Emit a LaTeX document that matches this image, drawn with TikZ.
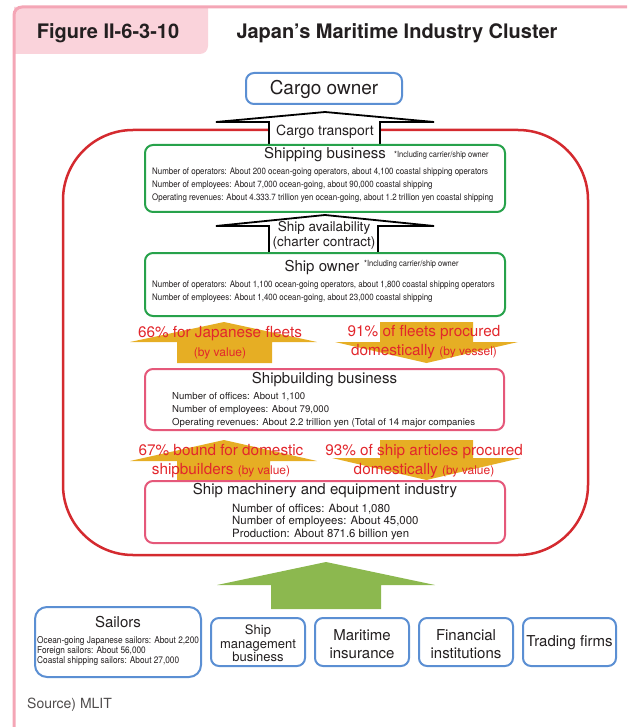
\documentclass[tikz,border=0pt]{standalone}
\usepackage{fontspec}
\setmainfont{TeX Gyre Heros}
\newfontfamily\condfont[FakeStretch=0.88]{TeX Gyre Heros}
\newcommand\fsz[2]{\fontsize{#1}{#2}\selectfont}
\definecolor{framepink}{HTML}{F4A6B6}
\definecolor{tabpink}{HTML}{FAD3DB}
\definecolor{clusterred}{HTML}{D42A2F}
\definecolor{boxgreen}{HTML}{27A24B}
\definecolor{boxpink}{HTML}{E5587A}
\definecolor{boxblue}{HTML}{5B8FD3}
\definecolor{gold}{HTML}{E6AE24}
\definecolor{leaf}{HTML}{8CB84F}
\definecolor{redtext}{HTML}{E2262C}
\definecolor{ink}{HTML}{231F20}
\begin{document}
\begin{tikzpicture}[x=1pt,y=-1pt,
  every node/.style={text=ink},
  box/.style={draw=#1, line width=2pt, rounded corners=8pt, fill=white, inner sep=0pt},
  blocktext/.style={inner sep=0pt, anchor=west},
  boxtitle/.style={inner sep=0pt, font=\fsz{15}{18}},
  smallcond/.style={blocktext, font=\condfont\fsz{9}{11}},
  notecond/.style={inner sep=0pt, anchor=west, font=\condfont\fsz{8.5}{10}},
  redlbl/.style={inner sep=0pt, align=center, text=redtext, font=\fsz{15.3}{19}},
  whitearrow/.style={fill=white, draw=black, line width=1.8pt},
]
\useasboundingbox (0,0) rectangle (627,727);

% frame and tab
\fill[tabpink] (14,7) -- (208,7) -- (208,46) arc[start angle=0, end angle=90, radius=8] -- (14,54) -- cycle;
\draw[framepink, line width=3pt, rounded corners=8pt] (14,727) -- (14,7) -- (627,7);
\node[font=\bfseries\fsz{20}{22}, inner sep=0pt] (fig) at (108,33) {Figure II-6-3-10};
\node[font=\bfseries\fsz{20}{22}, inner sep=0pt] (title) at (397,33) {Japan’s Maritime Industry Cluster};

% cluster
\node[draw=clusterred, line width=2.5pt, rounded corners=70pt, minimum width=525, minimum height=425, inner sep=0pt] (cluster) at (325.5,342.5) {};

% white block arrows
\draw[whitearrow] (269,145) -- (269,122) -- (216,122) -- (325,112) -- (434,122) -- (380,122) -- (380,145) -- cycle;
\draw[whitearrow] (269,253) -- (269,226) -- (216,226) -- (325,215) -- (434,226) -- (378,226) -- (378,253) -- cycle;

% gold arrows
\fill[gold] (177,363) -- (177,342) -- (130,342) -- (224,322) -- (317,342) -- (272,342) -- (272,363) -- cycle;
\fill[gold] (380,322) -- (473,322) -- (473,342) -- (518,342) -- (426.5,363) -- (335,342) -- (380,342) -- cycle;
\fill[gold] (177,481) -- (177,461) -- (130,461) -- (224,440) -- (317,461) -- (270,461) -- (270,481) -- cycle;
\fill[gold] (380,440) -- (473,440) -- (473,458) -- (521,458) -- (426.5,480) -- (332,458) -- (380,458) -- cycle;

% boxes
\node[box=boxblue, minimum width=156, minimum height=31] (cargo) at (324,88.5) {};
\node[box=boxgreen, minimum width=360, minimum height=67] (shipping) at (325,178.5) {};
\node[box=boxgreen, minimum width=360, minimum height=63] (owner) at (325,284.5) {};
\node[box=boxpink, minimum width=359, minimum height=61] (building) at (324.5,399.5) {};
\node[box=boxpink, minimum width=360, minimum height=62] (machinery) at (325,512) {};
\node[box=boxblue, rounded corners=12pt, minimum width=166, minimum height=70] (sailors) at (118,642) {};
\node[box=boxblue, minimum width=94, minimum height=48] (mgmt) at (258,642) {};
\node[box=boxblue, minimum width=94, minimum height=48] (insurance) at (362,642) {};
\node[box=boxblue, minimum width=94, minimum height=48] (finance) at (466,642) {};
\node[box=boxblue, minimum width=93, minimum height=48] (trading) at (569.5,642) {};

% green arrow
\fill[leaf] (271,609) -- (271,585) -- (217,585) -- (326,562) -- (435,585) -- (381,585) -- (381,609) -- cycle;

% texts
\node[inner sep=0pt, font=\fsz{19}{22}] (cargot) at (324,89) {Cargo owner};
\node[inner sep=0pt, font=\fsz{14}{16}] (transport) at (325,131.5) {Cargo transport};
\node[inner sep=0pt, align=center, font=\fsz{13.5}{15}] (avail) at (324,235.5) {Ship availability\\(charter contract)};

\node[boxtitle] (shippingt) at (325,155) {Shipping business};
\node[notecond] (shippingn) at (394,155) {*Including carrier/ship owner};
\node[smallcond] (s1) at (152,172) {Number of operators: About 200 ocean-going operators, about 4,100 coastal shipping operators};
\node[smallcond] (s2) at (152,185) {Number of employees: About 7,000 ocean-going, about 90,000 coastal shipping};
\node[smallcond] (s3) at (152,198.5) {Operating revenues: About 4.333.7 trillion yen ocean-going, about 1.2 trillion yen coastal shipping};

\node[boxtitle] (ownert) at (322,268) {Ship owner};
\node[notecond] (ownern) at (364,264) {*Including carrier/ship owner};
\node[smallcond] (o1) at (152,285) {Number of operators: About 1,100 ocean-going operators, about 1,800 coastal shipping operators};
\node[smallcond] (o2) at (152,298) {Number of employees: About 1,400 ocean-going, about 23,000 coastal shipping};

\node[redlbl] (g1) at (220,342.5) {66\% for Japanese fleets\\{\fsz{12}{19}(by value)}};
\node[redlbl] (g2) at (424,342.5) {91\% of fleets procured\\domestically {\fsz{12}{19}(by vessel)}};

\node[boxtitle] (buildingt) at (324.5,380) {Shipbuilding business};
\node[blocktext, font=\fsz{9.6}{12}] (b1) at (172,397) {Number of offices: About 1,100};
\node[blocktext, font=\fsz{9.6}{12}] (b2) at (172,410) {Number of employees: About 79,000};
\node[blocktext, font=\fsz{9.6}{12}] (b3) at (172,423) {Operating revenues: About 2.2 trillion yen (Total of 14 major companies};

\node[redlbl] (g3) at (221,461.5) {67\% bound for domestic\\shipbuilders {\fsz{12}{19}(by value)}};
\node[redlbl] (g4) at (424,461.5) {93\% of ship articles procured\\domestically {\fsz{12}{19}(by value)}};

\node[boxtitle] (machineryt) at (325,491) {Ship machinery and equipment industry};
\node[blocktext, font=\fsz{11.4}{13}] (m1) at (232,509) {Number of offices: About 1,080};
\node[blocktext, font=\fsz{11.4}{13}] (m2) at (232,522) {Number of employees: About 45,000};
\node[blocktext, font=\fsz{11.4}{13}] (m3) at (232,535) {Production: About 871.6 billion yen};

\node[boxtitle] (sailorst) at (118,622) {Sailors};
\node[blocktext, font=\condfont\fsz{9.4}{10}] (a1) at (37,641) {Ocean-going Japanese sailors: About 2,200};
\node[blocktext, font=\condfont\fsz{9.4}{10}] (a2) at (37,651) {Foreign sailors: About 56,000};
\node[blocktext, font=\condfont\fsz{9.4}{10}] (a3) at (37,661) {Coastal shipping sailors: About 27,000};

\node[inner sep=0pt, align=center, font=\fsz{13}{13.5}] (mgmtt) at (258,643.5) {Ship\\management\\business};
\node[inner sep=0pt, align=center, font=\fsz{15}{18}] (insurancet) at (362,644) {Maritime\\insurance};
\node[inner sep=0pt, align=center, font=\fsz{15}{18}] (financet) at (466,644) {Financial\\institutions};
\node[inner sep=0pt, font=\fsz{15}{18}] (tradingt) at (569.5,643) {Trading firms};

\node[blocktext, font=\fsz{14}{16}, text=ink!80] (source) at (27,705) {Source) MLIT};
\end{tikzpicture}
\end{document}
